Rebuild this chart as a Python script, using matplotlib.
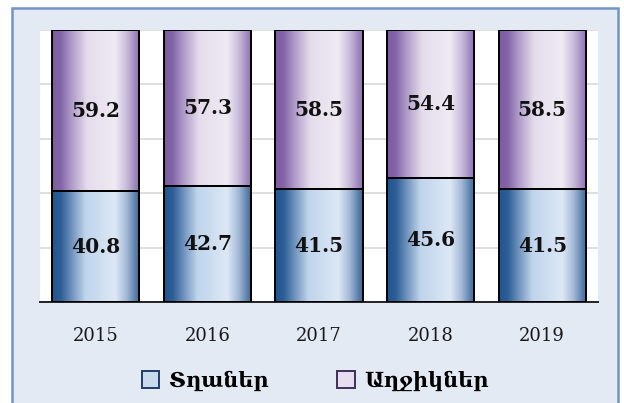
import numpy as np
import matplotlib
matplotlib.use("Agg")
import matplotlib.pyplot as plt
from matplotlib.colors import LinearSegmentedColormap
from matplotlib.patches import Rectangle, Patch

# data
years = ['2015', '2016', '2017', '2018', '2019']
boys = [40.8, 42.7, 41.5, 45.6, 41.5]
girls = [59.2, 57.3, 58.5, 54.4, 58.5]
series_names = ['Տղաներ', 'Աղջիկներ']

serif = ['DejaVu Serif', 'DejaVu Sans']

blue_cmap = LinearSegmentedColormap.from_list('blue', [
    (0.0, '#22558E'), (0.1, '#2D5F96'), (0.22, '#6E91BC'), (0.38, '#C0D4EC'),
    (0.72, '#DDE8F5'), (0.85, '#A3B9D6'), (0.95, '#5A7FAB'), (1.0, '#3F6697')])
purple_cmap = LinearSegmentedColormap.from_list('purple', [
    (0.0, '#7C5CA0'), (0.1, '#8466A8'), (0.22, '#AE9AC8'), (0.4, '#E5DCEC'),
    (0.72, '#EFEAF3'), (0.85, '#C9BCDA'), (0.95, '#9F86BF'), (1.0, '#8F72B0')])

fig = plt.figure(figsize=(6.24, 4.03), dpi=100, facecolor='white')

# outer frame, drawn behind the axes
frame = Rectangle((12 / 624, -0.05), (618 - 12) / 624, 1.05 - 8 / 403,
                  transform=fig.transFigure, facecolor='#E3EAF4',
                  edgecolor='#6F94C8', linewidth=1.8, zorder=-10)
fig.patches.append(frame)

ax = fig.add_axes([40 / 624, 1 - 302 / 403, (598 - 40) / 624, 272 / 403])
ax.set_facecolor('white')

x = np.arange(len(years))
width = 0.78
b1 = ax.bar(x, boys, width, facecolor='none', edgecolor='black', linewidth=1.4, zorder=3)
b2 = ax.bar(x, girls, width, bottom=boys, facecolor='none', edgecolor='black',
            linewidth=1.4, zorder=3)

grad = np.linspace(0, 1, 256).reshape(1, -1)
for bars, cmap in [(b1, blue_cmap), (b2, purple_cmap)]:
    for p in bars:
        x0, y0 = p.get_x(), p.get_y()
        ax.imshow(grad, extent=[x0, x0 + p.get_width(), y0, y0 + p.get_height()],
                  aspect='auto', cmap=cmap, zorder=2)

for i in range(len(years)):
    ax.text(x[i], boys[i] / 2, f'{boys[i]:.1f}', ha='center', va='center',
            fontsize=14.5, fontweight='bold', family=serif, color='#111111', zorder=4)
    ax.text(x[i], boys[i] + girls[i] / 2, f'{girls[i]:.1f}', ha='center', va='center',
            fontsize=14.5, fontweight='bold', family=serif, color='#111111', zorder=4)

ax.set_xlim(-0.5, 4.5)
ax.set_ylim(0, 100)
ax.set_yticks(np.arange(0, 101, 20))
ax.set_yticklabels([])
ax.tick_params(axis='y', length=0)
ax.tick_params(axis='x', length=0, pad=18)
ax.set_xticks(x)
ax.set_xticklabels(years, fontsize=13, family=serif, color='#1A1A1A')
ax.grid(axis='y', color='#D9D9D9', linewidth=1.2, zorder=1)
ax.set_axisbelow(True)
for s in ['left', 'right', 'top']:
    ax.spines[s].set_visible(False)
ax.spines['bottom'].set_color('#222222')
ax.spines['bottom'].set_linewidth(1.4)

handles = [Patch(facecolor='#C9D9EE', edgecolor='#1F3F66', linewidth=1.4),
           Patch(facecolor='#E6DDEF', edgecolor='#3F2F5A', linewidth=1.4)]
fig.legend(handles, series_names, loc='center', bbox_to_anchor=(0.505, 1 - 381 / 403),
           ncol=2, frameon=False, handlelength=0.85, handleheight=0.85,
           handletextpad=0.45, columnspacing=3.3,
           prop={'family': serif, 'size': 15, 'weight': 'bold'})

fig.savefig('out.png', dpi=100, facecolor=fig.get_facecolor())
